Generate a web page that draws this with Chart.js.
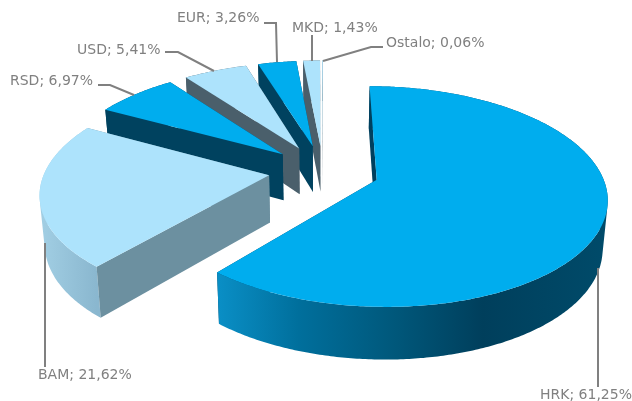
<!DOCTYPE html>
<html>
<head>
<meta charset="utf-8">
<script src="https://cdn.jsdelivr.net/npm/chart.js@4"></script>
<style>
  html, body { margin: 0; padding: 0; background: #fff; }
  #wrap { width: 632px; height: 401px; }
</style>
</head>
<body>
<div id="wrap"><canvas id="pieChart" width="632" height="401"></canvas></div>
<script>
// Currency shares
const categories = ['HRK', 'BAM', 'RSD', 'USD', 'EUR', 'MKD', 'Ostalo'];
const shares = [61.25, 21.62, 6.97, 5.41, 3.26, 1.43, 0.06];

// Colours per slice
const topColors = ['#00ADEE', '#ADE3FC', '#00ADEE', '#ADE3FC', '#00ADEE', '#ADE3FC', '#ADE3FC'];
const cutColors = ['#00405E', '#6C90A0', '#00425F', '#4A5F6B', '#00425F', '#4A5F6B', '#7E8F99'];
const wallStops = [
    [[0, '#0A8FC6'], [0.21, '#006F9C'], [0.46, '#00577A'], [0.68, '#003F5C'], [1, '#004B6A']],
    [[0, '#A2CFE4'], [1, '#8AB7CF']],
    [[0, '#00425F'], [1, '#00425F']],
    [[0, '#4A5F6B'], [1, '#4A5F6B']],
    [[0, '#00425F'], [1, '#00425F']],
    [[0, '#4A5F6B'], [1, '#4A5F6B']],
    [[0, '#7E8F99'], [1, '#7E8F99']]
];

// Label text anchors and leader lines, same order as categories
const labelBoxes = [
    { x: 540, y: 395, line: [[598, 268], [598, 387]] },
    { x: 38, y: 375, line: [[45, 243], [45, 367]] },
    { x: 10, y: 81, line: [[98, 85], [110, 85], [134, 95]] },
    { x: 77, y: 50, line: [[165, 52], [178, 52], [214, 71]] },
    { x: 177, y: 18, line: [[264, 23], [276, 23], [277, 62]] },
    { x: 292, y: 28, line: [[312, 35], [312, 61]] },
    { x: 386, y: 43, line: [[383, 47], [371, 47], [323, 61]] }
];

// 3D view settings
const pieRadius = 224;
const explode = [226, 218, 218, 218, 218, 218, 218]; // arc draws offset / 4 away from centre
const squash = 0.4687;
const perspective = 0.15;
const depthBase = 47;
const depthSlope = 5.2;
const floorShrink = 0.982;

function topPoint(cx, cy, px, py) {
    const v = py / pieRadius;
    const s = 1 / (1 - perspective * v);
    return { x: cx + px * s, y: cy + py * squash * s, v: v };
}

function floorPoint(cx, p) {
    return { x: cx + (p.x - cx) * floorShrink, y: p.y + depthBase + depthSlope * p.v };
}

function tracePath(ctx, pts) {
    pts.forEach((p, i) => i ? ctx.lineTo(p.x, p.y) : ctx.moveTo(p.x, p.y));
    ctx.closePath();
}

function fillPath(ctx, pts, style) {
    ctx.beginPath();
    tracePath(ctx, pts);
    ctx.fillStyle = style;
    ctx.fill();
}

function signedArea(pts) {
    let sum = 0;
    pts.forEach((p, i) => {
        const q = pts[(i + 1) % pts.length];
        sum += p.x * q.y - q.x * p.y;
    });
    return sum;
}

function drawSlice(ctx, arc, i) {
    const mid = (arc.startAngle + arc.endAngle) / 2;
    const off = arc.options.offset / 4;
    const ox = Math.cos(mid) * off;
    const oy = Math.sin(mid) * off;
    const r = arc.outerRadius;
    const steps = Math.max(2, Math.ceil((arc.endAngle - arc.startAngle) * 90));

    const rim = [];
    for (let k = 0; k <= steps; k++) {
        const a = arc.startAngle + (arc.endAngle - arc.startAngle) * k / steps;
        rim.push(topPoint(arc.x, arc.y, ox + r * Math.cos(a), oy + r * Math.sin(a)));
    }
    const apex = topPoint(arc.x, arc.y, ox, oy);
    const rimFloor = rim.map(p => floorPoint(arc.x, p));
    const apexFloor = floorPoint(arc.x, apex);
    const first = rim[0], last = rim[rim.length - 1];

    // far cut face first, the slice covers it where it is hidden
    fillPath(ctx, [apex, last, rimFloor[rimFloor.length - 1], apexFloor], cutColors[i]);

    // outer wall as one path of quads, same winding so they never cancel at the sides
    const xs = rim.map(p => p.x);
    const g = ctx.createLinearGradient(Math.min(...xs), 0, Math.max(...xs), 0);
    wallStops[i].forEach(s => g.addColorStop(s[0], s[1]));
    ctx.beginPath();
    for (let k = 0; k < steps; k++) {
        const quad = [rim[k], rim[k + 1], rimFloor[k + 1], rimFloor[k]];
        tracePath(ctx, signedArea(quad) < 0 ? quad.reverse() : quad);
    }
    ctx.fillStyle = g;
    ctx.fill();

    fillPath(ctx, [apex, first, rimFloor[0], apexFloor], cutColors[i]);
    fillPath(ctx, [apex].concat(rim), topColors[i]);
}

const pie3d = {
    id: 'pie3d',
    beforeDatasetDraw(chart, args) {
        const ctx = chart.ctx;
        const arcs = args.meta.data;
        ctx.save();
        for (let i = arcs.length - 1; i >= 0; i--) {
            drawSlice(ctx, arcs[i], i);
        }
        ctx.restore();
        return false;
    },
    afterDraw(chart) {
        const ctx = chart.ctx;
        ctx.save();
        ctx.strokeStyle = '#808080';
        ctx.lineWidth = 2;
        labelBoxes.forEach(b => {
            ctx.beginPath();
            b.line.forEach((p, i) => i ? ctx.lineTo(p[0], p[1]) : ctx.moveTo(p[0], p[1]));
            ctx.stroke();
        });
        ctx.fillStyle = '#808080';
        ctx.font = '14px "DejaVu Sans"';
        ctx.textBaseline = 'middle';
        categories.forEach((c, i) => {
            const text = c + '; ' + shares[i].toFixed(2).replace('.', ',') + '%';
            ctx.fillText(text, labelBoxes[i].x, labelBoxes[i].y);
        });
        ctx.restore();
    }
};

new Chart(document.getElementById('pieChart'), {
    type: 'pie',
    data: {
        labels: categories,
        datasets: [{
            data: shares,
            backgroundColor: topColors,
            borderWidth: 0,
            offset: explode
        }]
    },
    options: {
        responsive: false,
        animation: false,
        radius: pieRadius,
        layout: { padding: { left: 14, right: 0, top: 0, bottom: 60 } },
        plugins: {
            legend: { display: false },
            tooltip: { enabled: false }
        }
    },
    plugins: [pie3d]
});
</script>
</body>
</html>
